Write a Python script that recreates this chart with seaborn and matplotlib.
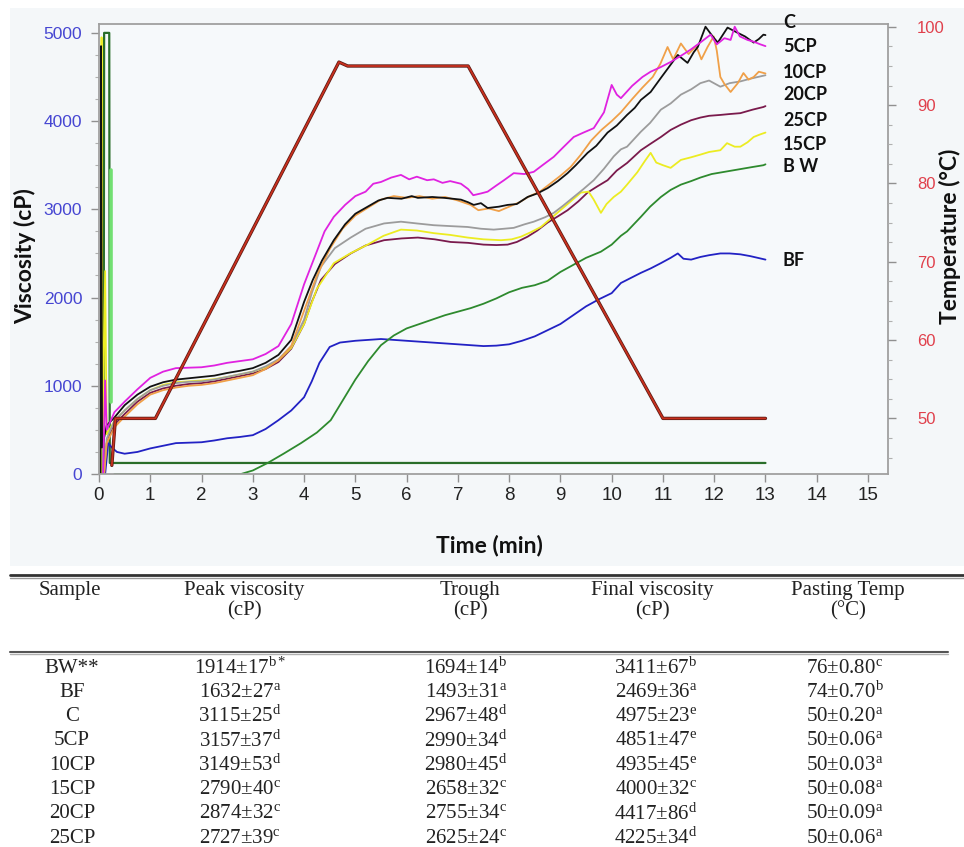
import numpy as np
import pandas as pd
import matplotlib
matplotlib.use("Agg")
import matplotlib.pyplot as plt
import seaborn as sns
from matplotlib.lines import Line2D
from matplotlib.patches import Rectangle
from matplotlib.ticker import MultipleLocator

# ---------------- data (time [min], viscosity [cP]) ----------------
C_PTS = [(0.03,0),(0.04,4850),(0.06,300),(0.15,550),(0.3,640),(0.5,780),(0.75,900),(1.0,990),(1.25,1040),(1.5,1070),
         (1.75,1085),(2.0,1100),(2.25,1115),(2.5,1145),(2.75,1170),(3.0,1200),(3.25,1260),(3.5,1350),(3.75,1520),(4.0,1950),
         (4.17,2200),(4.35,2420),(4.58,2650),(4.8,2830),(5.0,2950),(5.24,3030),(5.45,3100),(5.63,3130),(5.9,3120),(6.1,3150),
         (6.22,3130),(6.5,3140),(6.73,3130),(6.9,3120),(7.06,3110),(7.2,3080),(7.31,3050),(7.45,3070),(7.58,3015),(7.8,3030),
         (7.97,3050),(8.15,3060),(8.36,3140),(8.55,3180),(8.75,3240),(8.95,3320),(9.14,3410),(9.3,3500),(9.53,3640),(9.7,3720),
         (9.92,3870),(10.1,3950),(10.3,4070),(10.45,4150),(10.57,4240),(10.76,4330),(10.96,4490),(11.1,4600),(11.29,4750),(11.48,4660),
         (11.6,4780),(11.68,4840),(11.83,5070),(11.97,4960),(12.07,4890),(12.26,5060),(12.46,5000),(12.6,4960),(12.77,4890),(12.87,4930),
         (12.96,4980),(13.0,4975)]
CP5_PTS = [(0.08,0),(0.12,1060),(0.15,500),(0.3,700),(0.5,820),(0.75,960),(1.0,1090),(1.25,1160),(1.5,1200),(1.75,1205),
           (2.0,1210),(2.25,1230),(2.5,1260),(2.75,1280),(3.0,1300),(3.25,1360),(3.5,1450),(3.75,1700),(4.0,2150),(4.2,2450),
           (4.4,2750),(4.58,2915),(4.8,3050),(5.0,3150),(5.2,3200),(5.35,3290),(5.5,3310),(5.7,3360),(5.89,3390),(6.05,3340),
           (6.2,3370),(6.4,3330),(6.53,3340),(6.7,3300),(6.85,3320),(7.06,3290),(7.2,3230),(7.3,3160),(7.45,3180),(7.58,3200),
           (7.75,3270),(7.9,3330),(8.09,3410),(8.3,3400),(8.48,3425),(8.65,3500),(8.87,3595),(9.05,3700),(9.26,3820),(9.45,3870),
           (9.65,3920),(9.85,4100),(10.0,4410),(10.1,4300),(10.18,4260),(10.4,4400),(10.6,4500),(10.76,4560),(10.95,4610),(11.15,4670),
           (11.35,4740),(11.54,4810),(11.75,4900),(11.93,4980),(12.05,4870),(12.2,4940),(12.32,4920),(12.4,5070),(12.5,4960),(12.65,4920),
           (12.77,4900),(12.9,4870),(13.0,4850)]
CP10_PTS = [(0.1,0),(0.15,350),(0.3,530),(0.5,650),(0.75,790),(1.0,900),(1.25,950),(1.5,980),(1.75,1000),(2.0,1010),
            (2.25,1030),(2.5,1060),(2.75,1090),(3.0,1120),(3.25,1190),(3.5,1290),(3.75,1450),(4.0,1850),(4.25,2250),(4.5,2550),
            (4.75,2780),(5.0,2930),(5.25,3020),(5.5,3110),(5.75,3150),(6.0,3130),(6.25,3150),(6.5,3120),(6.75,3140),(7.0,3100),
            (7.25,3050),(7.4,2990),(7.6,3010),(7.8,2980),(8.0,3030),(8.2,3080),(8.4,3150),(8.6,3200),(8.8,3290),(9.0,3380),
            (9.2,3480),(9.4,3620),(9.6,3780),(9.8,3900),(10.0,4000),(10.18,4100),(10.4,4250),(10.6,4380),(10.8,4500),(10.95,4650),
            (11.09,4840),(11.2,4700),(11.35,4880),(11.5,4760),(11.65,4850),(11.75,4700),(11.87,4840),(11.99,4960),(12.05,4800),(12.12,4500),
            (12.2,4420),(12.32,4330),(12.46,4430),(12.57,4545),(12.67,4470),(12.77,4500),(12.87,4560),(13.0,4540)]
CP20_PTS = [(0.1,0),(0.15,400),(0.3,600),(0.5,720),(0.75,850),(1.0,950),(1.25,1000),(1.5,1030),(1.75,1045),(2.0,1050),
            (2.25,1070),(2.5,1100),(2.75,1130),(3.0,1160),(3.25,1220),(3.5,1300),(3.75,1450),(4.0,1750),(4.15,2050),(4.33,2350),
            (4.6,2560),(4.91,2680),(5.2,2780),(5.56,2840),(5.89,2860),(6.2,2840),(6.53,2820),(6.85,2810),(7.19,2800),(7.45,2780),
            (7.7,2770),(7.9,2780),(8.09,2790),(8.3,2830),(8.48,2860),(8.7,2910),(8.87,2960),(9.05,3040),(9.26,3140),(9.45,3230),
            (9.65,3330),(9.85,3460),(10.04,3600),(10.18,3680),(10.3,3710),(10.57,3880),(10.75,3980),(10.96,4130),(11.15,4200),(11.35,4300),
            (11.55,4360),(11.73,4430),(11.9,4460),(12.12,4390),(12.3,4430),(12.51,4450),(12.7,4480),(12.85,4500),(13.0,4520)]
CP25_PTS = [(0.1,0),(0.15,350),(0.3,560),(0.5,680),(0.75,820),(1.0,920),(1.25,970),(1.5,1000),(1.75,1020),(2.0,1030),
            (2.25,1050),(2.5,1080),(2.75,1110),(3.0,1140),(3.25,1190),(3.5,1270),(3.75,1420),(4.0,1700),(4.15,1950),(4.33,2200),
            (4.6,2380),(4.91,2500),(5.2,2590),(5.56,2650),(5.9,2670),(6.22,2680),(6.55,2660),(6.86,2630),(7.2,2620),(7.5,2600),
            (7.75,2595),(7.97,2600),(8.15,2630),(8.36,2690),(8.55,2760),(8.75,2850),(8.95,2920),(9.14,2990),(9.35,3090),(9.53,3190),
            (9.72,3260),(9.92,3330),(10.1,3440),(10.3,3525),(10.57,3670),(10.75,3740),(10.96,3820),(11.15,3900),(11.35,3960),(11.55,4010),
            (11.73,4040),(11.9,4060),(12.12,4070),(12.3,4080),(12.51,4090),(12.75,4130),(12.96,4160),(13.0,4170)]
CP15_PTS = [(0.04,0),(0.05,4950),(0.07,300),(0.12,2300),(0.15,450),(0.3,600),(0.5,720),(0.75,850),(1.0,950),(1.25,1010),
            (1.5,1040),(1.75,1050),(2.0,1060),(2.25,1075),(2.5,1100),(2.75,1130),(3.0,1160),(3.25,1210),(3.5,1290),(3.75,1430),
            (4.0,1700),(4.25,2100),(4.58,2390),(4.9,2500),(5.24,2600),(5.55,2700),(5.89,2770),(6.2,2760),(6.53,2730),(6.85,2710),
            (7.19,2680),(7.5,2660),(7.84,2650),(8.05,2660),(8.23,2690),(8.42,2740),(8.62,2800),(8.8,2890),(9.0,2990),(9.2,3090),
            (9.4,3190),(9.55,3200),(9.65,3110),(9.79,2960),(9.9,3060),(10.04,3140),(10.18,3200),(10.3,3280),(10.5,3420),(10.65,3550),
            (10.76,3640),(10.87,3530),(11.0,3500),(11.15,3470),(11.35,3560),(11.55,3590),(11.73,3620),(11.9,3650),(12.12,3670),(12.25,3750),
            (12.4,3710),(12.51,3710),(12.65,3760),(12.77,3820),(12.9,3850),(13.0,3870)]
BW_PTS = [(0.3,0),(2.77,0),(3.0,40),(3.29,125),(3.6,230),(3.94,350),(4.25,470),(4.52,610),(4.75,830),(5.0,1070),
          (5.25,1280),(5.5,1460),(5.75,1570),(6.0,1650),(6.25,1700),(6.5,1750),(6.75,1800),(7.0,1840),(7.25,1880),(7.5,1930),
          (7.75,1990),(8.0,2060),(8.25,2110),(8.5,2140),(8.75,2190),(9.0,2290),(9.25,2370),(9.5,2450),(9.79,2520),(10.0,2600),
          (10.18,2700),(10.3,2750),(10.57,2915),(10.75,3030),(10.96,3140),(11.15,3220),(11.35,3280),(11.55,3320),(11.73,3360),(11.95,3400),
          (12.15,3420),(12.35,3440),(12.55,3460),(12.75,3480),(12.96,3500),(13.0,3510)]
BF_PTS = [(0.12,0),(0.18,350),(0.25,300),(0.35,250),(0.5,230),(0.75,250),(1.0,290),(1.25,320),(1.5,350),(1.75,355),
          (2.0,360),(2.25,380),(2.5,405),(2.75,420),(3.0,440),(3.25,510),(3.5,610),(3.75,720),(4.0,870),(4.15,1050),
          (4.3,1260),(4.5,1440),(4.7,1490),(5.0,1510),(5.25,1520),(5.5,1530),(5.75,1520),(6.0,1510),(6.25,1500),(6.5,1490),
          (6.75,1480),(7.0,1470),(7.25,1460),(7.5,1450),(7.75,1455),(8.0,1470),(8.25,1510),(8.5,1560),(8.75,1630),(9.0,1700),
          (9.25,1800),(9.5,1900),(9.75,1980),(10.0,2050),(10.18,2165),(10.4,2230),(10.57,2280),(10.76,2330),(10.96,2390),(11.15,2450),
          (11.29,2500),(11.4,2440),(11.55,2430),(11.73,2460),(11.9,2480),(12.12,2500),(12.3,2500),(12.51,2490),(12.7,2470),(12.85,2450),
          (13.0,2430)]
# instrument start-up traces
SPIKE_PTS = [(0.09,0),(0.1,5000),(0.2,5000),(0.21,125),(13.0,125)]
LIGHTGREEN_PTS = [(0.235,820),(0.235,3450)]
# temperature profile (time [min], °C)
TEMP_PTS = [(0.25,44),(0.32,50),(1.1,50),(4.68,95.5),(4.85,95),(7.2,95),(11.0,50),(13.0,50)]

CURVE_ORDER = ["BF", "BW", "25CP", "15CP", "20CP", "10CP", "C", "5CP"]
CURVE_DATA = {"BF": BF_PTS, "BW": BW_PTS, "25CP": CP25_PTS, "15CP": CP15_PTS,
              "20CP": CP20_PTS, "10CP": CP10_PTS, "C": C_PTS, "5CP": CP5_PTS}
CURVE_COLORS = {"BF": "#2222c4", "BW": "#2e8a2e", "25CP": "#7a1a4c", "15CP": "#ecec22",
                "20CP": "#9c9c9c", "10CP": "#f0a048", "C": "#111111", "5CP": "#e022e0"}
END_LABELS = ["C", "5CP", "10CP", "20CP", "25CP", "15CP", "B W", "BF"]

X_TICKS = list(range(0, 16))
V_TICKS = [0, 1000, 2000, 3000, 4000, 5000]
T_TICKS = [50, 60, 70, 80, 90, 100]

# table
TBL_HEAD1 = ["Sample", "Peak viscosity", "Trough", "Final viscosity", "Pasting Temp"]
TBL_HEAD2 = ["", "(cP)", "(cP)", "(cP)", "(°C)"]
TBL_SAMPLES = ["BW**", "BF", "C", "5CP", "10CP", "15CP", "20CP", "25CP"]
PEAK = ["1914±17", "1632±27", "3115±25", "3157±37", "3149±53", "2790±40", "2874±32", "2727±39"]
PEAK_SUP = ["b*", "a", "d", "d", "d", "c", "c", "c"]
TROUGH = ["1694±14", "1493±31", "2967±48", "2990±34", "2980±45", "2658±32", "2755±34", "2625±24"]
TROUGH_SUP = ["b", "a", "d", "d", "d", "c", "c", "c"]
FINAL = ["3411±67", "2469±36", "4975±23", "4851±47", "4935±45", "4000±32", "4417±86", "4225±34"]
FINAL_SUP = ["b", "a", "e", "e", "e", "c", "d", "d"]
PTEMP = ["76±0.80", "74±0.70", "50±0.20", "50±0.06", "50±0.03", "50±0.08", "50±0.09", "50±0.06"]
PTEMP_SUP = ["c", "b", "a", "a", "a", "a", "a", "a"]

# ---------------- figure ----------------
W, H = 964, 847
def fx(px): return px / W
def fy(py): return 1 - py / H

sns.set_theme(style="white")
plt.rcParams['font.family'] = ['Lato', 'DejaVu Sans']
plt.rcParams['mathtext.fontset'] = 'custom'
plt.rcParams['mathtext.rm'] = 'Liberation Serif'
plt.rcParams['mathtext.it'] = 'Liberation Serif:italic'
plt.rcParams['mathtext.bf'] = 'Liberation Serif:bold'

fig = plt.figure(figsize=(W / 100, H / 100), dpi=100)
fig.patch.set_facecolor('white')
fig.add_artist(Rectangle((fx(10), fy(566)), fx(964) - fx(10), fy(8) - fy(566),
                         transform=fig.transFigure, facecolor='#f4f7f9', edgecolor='none', zorder=-10))

AX_L, AX_R, AX_T, AX_B = 99, 888, 24.5, 474
ax = fig.add_axes([fx(AX_L), fy(AX_B), fx(AX_R) - fx(AX_L), fy(AX_T) - fy(AX_B)])
ax.set_facecolor('#f6f9fb')

rows = [(name, t, v) for name in CURVE_ORDER for (t, v) in CURVE_DATA[name]]
df = pd.DataFrame(rows, columns=["sample", "t", "v"])

sp = pd.DataFrame(SPIKE_PTS, columns=["t", "v"])
sns.lineplot(data=sp, x="t", y="v", estimator=None, sort=False, color="#2a6e2a", linewidth=1.6, ax=ax)
lg = pd.DataFrame(LIGHTGREEN_PTS, columns=["t", "v"])
sns.lineplot(data=lg, x="t", y="v", estimator=None, sort=False, color="#72e072", linewidth=2.6, ax=ax)

sns.lineplot(data=df, x="t", y="v", hue="sample", hue_order=CURVE_ORDER, palette=CURVE_COLORS,
             estimator=None, sort=False, legend=False, linewidth=1.3, ax=ax)

ax.set_xlim(0.0, 15.39)
ax.set_ylim(0, 5095)
ax.set_xlabel("")
ax.set_ylabel("")
ax.set_xticks(X_TICKS)
ax.set_xticklabels([str(x) for x in X_TICKS], family=['Liberation Sans Narrow', 'Liberation Sans'],
                   fontsize=13.5, color='#222222')
ax.set_yticks(V_TICKS)
ax.set_yticklabels([str(v) for v in V_TICKS], family=['Liberation Sans', 'DejaVu Sans'],
                   fontsize=12.5, color='#4646d2')
ax.yaxis.set_minor_locator(MultipleLocator(250))
ax.tick_params(axis='x', which='major', direction='out', length=6, width=1, color='#909090', pad=3, bottom=True)
ax.tick_params(axis='y', which='major', direction='out', length=6, width=1, color='#909090', pad=6, left=True)
ax.tick_params(axis='y', which='minor', direction='out', length=3, width=0.8, color='#b0b0b0', left=True)
for s in ax.spines.values():
    s.set_color('#a0a0a0')
    s.set_linewidth(1.3)

ax2 = ax.twinx()
tp = pd.DataFrame(TEMP_PTS, columns=["t", "T"])
sns.lineplot(data=tp, x="t", y="T", estimator=None, sort=False, color="#5a1a12", linewidth=2.4, ax=ax2)
sns.lineplot(data=tp, x="t", y="T", estimator=None, sort=False, color="#c8301e", linewidth=1.3, ax=ax2)
ax2.set_ylim(42.9, 100.3)
ax2.set_xlim(0.0, 15.39)
ax2.set_ylabel("")
ax2.set_xlabel("")
ax2.set_yticks(T_TICKS)
ax2.set_yticklabels([str(v) for v in T_TICKS], family=['Liberation Sans Narrow', 'Liberation Sans'],
                    fontsize=12, color='#e0404c')
ax2.yaxis.set_minor_locator(MultipleLocator(2.5))
ax2.tick_params(axis='y', which='major', direction='out', length=6, width=1, color='#909090', pad=15, right=True)
ax2.tick_params(axis='y', which='minor', direction='out', length=3, width=0.8, color='#b0b0b0', right=True)
for s in ax2.spines.values():
    s.set_visible(False)

# end-of-curve labels
LABEL_PY = [23, 47, 72, 95, 120, 145, 167, 260]
for lab, py in zip(END_LABELS, LABEL_PY):
    fig.text(fx(783), fy(py), lab, fontsize=13, fontweight='bold', color='#111111',
             ha='left', va='center', family=['Lato', 'DejaVu Sans'])

# axis titles
fig.text(fx(489), fy(545), "Time (min)", fontsize=16.5, fontweight='bold', ha='center', va='center', color='#111111')
fig.text(fx(25), fy(256), "Viscosity (cP)", fontsize=16.5, fontweight='bold', ha='center', va='center',
         rotation=90, color='#111111')
fig.text(fx(950), fy(236), "Temperature (°C)", fontsize=16.5, fontweight='bold', ha='center', va='center',
         rotation=90, color='#111111')

# ---------------- table ----------------
serif = ['Liberation Serif', 'DejaVu Serif']
TFS = 15
fig.add_artist(Line2D([fx(10), fx(964)], [fy(575), fy(575)], transform=fig.transFigure, color='#333333', lw=2.0))
fig.add_artist(Line2D([fx(10), fx(964)], [fy(577.5), fy(577.5)], transform=fig.transFigure, color='#9a9a9a', lw=1.0))
fig.add_artist(Line2D([fx(10), fx(948)], [fy(651.5), fy(651.5)], transform=fig.transFigure, color='#555555', lw=1.5))
fig.add_artist(Line2D([fx(10), fx(948)], [fy(654), fy(654)], transform=fig.transFigure, color='#b0b0b0', lw=1.0))

HEAD_X = [70, 244, 470, 652, 848]
for cx, h1, h2 in zip(HEAD_X, TBL_HEAD1, TBL_HEAD2):
    fig.text(fx(cx), fy(591), h1, family=serif, fontsize=TFS, ha='center', va='center', color='#222222')
    if h2:
        fig.text(fx(cx), fy(611), h2, family=serif, fontsize=TFS, ha='center', va='center', color='#222222')

def sup(val, s):
    return r'$\mathregular{' + val + '^{' + s + '}}$'

VAL_X = [72, 240, 466, 656, 845]
ROW_Y0, ROW_DY = 668, 24.3
for i in range(len(TBL_SAMPLES)):
    py = ROW_Y0 + i * ROW_DY
    fig.text(fx(VAL_X[0]), fy(py), TBL_SAMPLES[i], family=serif, fontsize=TFS, ha='center', va='center', color='#222222')
    for cx, vals, sups in ((VAL_X[1], PEAK, PEAK_SUP), (VAL_X[2], TROUGH, TROUGH_SUP),
                           (VAL_X[3], FINAL, FINAL_SUP), (VAL_X[4], PTEMP, PTEMP_SUP)):
        fig.text(fx(cx), fy(py), sup(vals[i], sups[i]), family=serif, fontsize=TFS,
                 ha='center', va='center', color='#222222')

fig.savefig("out.png", dpi=100, facecolor='white')
